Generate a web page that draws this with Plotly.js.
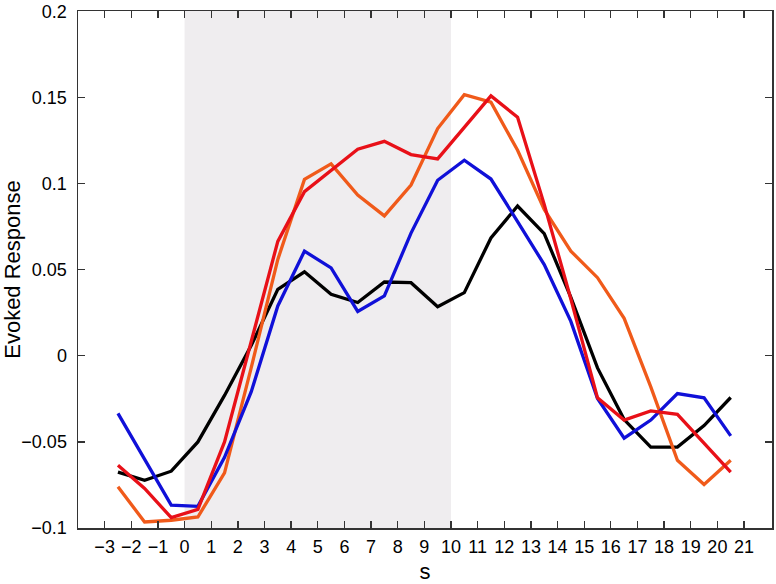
<!DOCTYPE html>
<html>
<head>
<meta charset="utf-8">
<script src="https://cdn.plot.ly/plotly-3.0.1.min.js"></script>
<style>html,body{margin:0;padding:0;background:#fff;}#chart{width:776px;height:584px;}</style>
</head>
<body>
<div id="chart"></div>
<script>
// time points (s)
var timeS = [-2.5, -1.5, -0.5, 0.5, 1.5, 2.5, 3.5, 4.5, 5.5, 6.5, 7.5, 8.5, 9.5, 10.5, 11.5, 12.5, 13.5, 14.5, 15.5, 16.5, 17.5, 18.5, 19.5, 20.5];
// evoked response series
var blackSeries  = [-0.0675, -0.0723, -0.067, -0.050, -0.023, 0.006, 0.0386, 0.0488, 0.0358, 0.031, 0.0429, 0.0425, 0.0285, 0.0367, 0.0685, 0.087, 0.071, 0.034, -0.007, -0.037, -0.053, -0.053, -0.0405, -0.0242];
var blueSeries   = [-0.0334, -0.060, -0.0867, -0.0874, -0.059, -0.021, 0.029, 0.0608, 0.0511, 0.0258, 0.0348, 0.0713, 0.102, 0.1136, 0.1027, 0.078, 0.053, 0.020, -0.0248, -0.0478, -0.0373, -0.0219, -0.0244, -0.0465];
var redSeries    = [-0.0636, -0.077, -0.094, -0.0892, -0.050, 0.009, 0.0665, 0.0954, 0.1078, 0.120, 0.1246, 0.1169, 0.1144, 0.133, 0.151, 0.1386, 0.088, 0.033, -0.0244, -0.0373, -0.032, -0.034, -0.0507, -0.0675];
var orangeSeries = [-0.0761, -0.0965, -0.0955, -0.0936, -0.068, -0.007, 0.056, 0.1025, 0.1115, 0.0934, 0.0813, 0.0992, 0.132, 0.1517, 0.1473, 0.1194, 0.085, 0.0608, 0.0454, 0.0218, -0.018, -0.0607, -0.0747, -0.0607];
// stimulus window
var stimWindow = [0, 10];
// tick labels
var xTicks = [-3, -2, -1, 0, 1, 2, 3, 4, 5, 6, 7, 8, 9, 10, 11, 12, 13, 14, 15, 16, 17, 18, 19, 20, 21];
var yTicks = [-0.1, -0.05, 0, 0.05, 0.1, 0.15, 0.2];
var yTickText = ["\u22120.1", "\u22120.05", "0", "0.05", "0.1", "0.15", "0.2"];

function line(y, color) {
  return {x: timeS, y: y, type: 'scatter', mode: 'lines', line: {color: color, width: 3.3}, hoverinfo: 'skip', showlegend: false};
}
var traces = [
  line(blackSeries, '#000000'),
  line(orangeSeries, '#f05a1a'),
  line(blueSeries, '#1010d8'),
  line(redSeries, '#e81018')
];

var fontFam = 'Liberation Sans, Arial, Helvetica, sans-serif';
var layout = {
  width: 776, height: 584,
  margin: {l: 78, r: 4, t: 11, b: 56},
  paper_bgcolor: '#ffffff', plot_bgcolor: '#ffffff',
  font: {family: fontFam, color: '#000000', size: 18},
  showlegend: false,
  xaxis: {
    range: [-4, 22.05], tickvals: xTicks, ticktext: xTicks.map(function(v){return v<0 ? '\u2212'+Math.abs(v) : String(v);}),
    ticks: 'inside', ticklen: 7, tickwidth: 1.3, tickcolor: '#333333',
    showline: true, linecolor: '#333333', linewidth: 1.5, mirror: 'ticks',
    showgrid: false, zeroline: false, tickfont: {size: 18, family: fontFam},
    ticklabelstandoff: 2,
    title: {text: 's', font: {size: 22, family: fontFam}, standoff: 8}
  },
  yaxis: {
    range: [-0.1, 0.2003], tickvals: yTicks, ticktext: yTickText,
    ticks: 'inside', ticklen: 7, tickwidth: 1.3, tickcolor: '#333333',
    showline: true, linecolor: '#333333', linewidth: 1.5, mirror: 'ticks',
    showgrid: false, zeroline: false, tickfont: {size: 18, family: fontFam},
    ticklabelstandoff: 6, ticklabeloverflow: 'allow',
    title: {text: 'Evoked Response', font: {size: 22, family: fontFam}, standoff: 8}
  },
  shapes: [{
    type: 'rect', xref: 'x', yref: 'paper', x0: stimWindow[0], x1: stimWindow[1], y0: 0, y1: 1,
    fillcolor: '#efedef', line: {width: 0}, layer: 'below'
  }]
};
Plotly.newPlot('chart', traces, layout, {staticPlot: true, displayModeBar: false});
</script>
</body>
</html>
